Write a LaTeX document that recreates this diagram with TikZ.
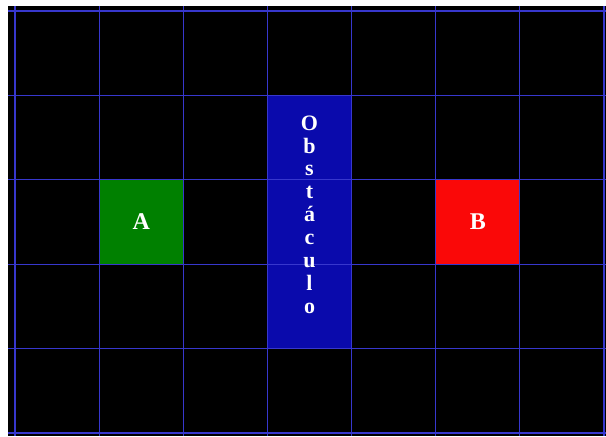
\documentclass[tikz,border=0pt]{standalone}
\usepackage{fontspec}
\setmainfont{Liberation Serif}
\definecolor{gridblue}{RGB}{55,55,205}
\definecolor{obstblue}{RGB}{10,10,172}
\definecolor{startgreen}{RGB}{0,128,0}
\definecolor{goalred}{RGB}{250,8,8}
\begin{document}
\begin{tikzpicture}[x=0.75pt, y=-0.75pt,
  cellbox/.style={minimum width=63.1pt, minimum height=63.3pt, inner sep=0pt,
                  text=white, font=\fontsize{18}{20}\selectfont\bfseries},
  obst/.style={cellbox, minimum height=189.9pt, fill=obstblue},
  obsttext/.style={text=white, align=center, inner sep=0pt,
                   font=\fontsize{16.5}{17.2}\selectfont\bfseries},
  gridline/.style={draw=gridblue, line width=0.9pt}
]
\useasboundingbox (0,0) rectangle (606,436);
\fill[black] (8,6) rectangle (606,436);
% start, goal and the obstacle between them
\node[cellbox, fill=startgreen] (A) at (141.2,222) {A};
\node[cellbox, fill=goalred] (B) at (477.8,222) {B};
\node[obst] (obs) at (309.5,222) {};
% grid on top
\foreach \i in {0,...,7}
  \draw[gridline] ({15+84.14*\i},6) -- ({15+84.14*\i},436);
\foreach \j in {0,...,5}
  \draw[gridline] (8,{11+84.4*\j}) -- (606,{11+84.4*\j});
\node[obsttext] (obslbl) at ([yshift=5.5pt]obs.center) {O\\b\\s\\t\\á\\c\\u\\l\\o};
\end{tikzpicture}
\end{document}
